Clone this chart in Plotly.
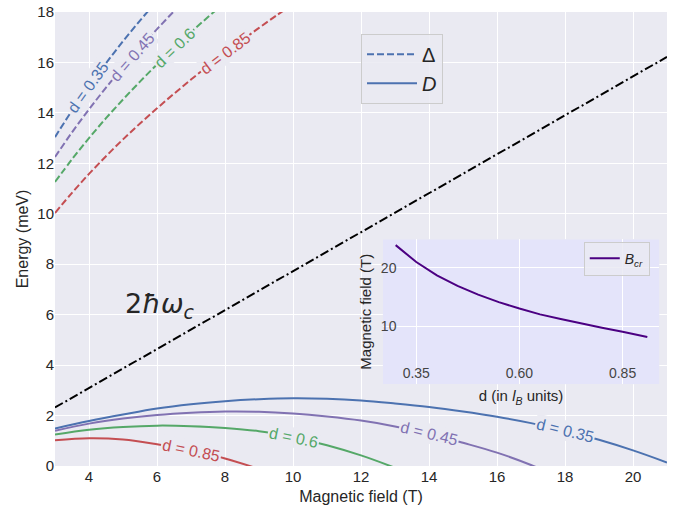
import numpy as np
import plotly.graph_objects as go

# ---------------- data ----------------
d_names = ["0.35", "0.45", "0.6", "0.85"]

# Gap Delta (dashed), meV
B_gap = [3, 3.5, 4, 4.5, 5, 5.5, 6, 6.5, 7, 7.5, 8, 8.5, 9, 9.5, 10]
gap_035 = [13.04, 14.09, 15.06, 15.97, 16.84, 17.66, 18.44, 19.2, 19.92, 20.62, 21.3, 21.95, 22.59, 23.21, 23.81]
gap_045 = [12.25, 13.23, 14.14, 15.0, 15.81, 16.58, 17.32, 18.03, 18.71, 19.36, 19.99, 20.61, 21.21, 21.79, 22.36]
gap_060 = [11.26, 12.16, 13.0, 13.79, 14.53, 15.24, 15.92, 16.57, 17.2, 17.8, 18.38, 18.95, 19.5, 20.03, 20.55]
gap_085 = [10.03, 10.83, 11.58, 12.28, 12.95, 13.58, 14.18, 14.76, 15.32, 15.86, 16.37, 16.88, 17.37, 17.85, 18.31]

# D (solid), meV
B_D = [3, 4, 5, 6, 7, 8, 9, 10, 11, 12, 13, 14, 15, 16, 17, 18, 19, 20, 21]
D_035 = [1.49, 1.78, 2.04, 2.28, 2.45, 2.57, 2.65, 2.69, 2.67, 2.60, 2.48, 2.34, 2.16, 1.95, 1.70, 1.40, 1.04, 0.62, 0.14]
D_045 = [1.40, 1.68, 1.88, 2.02, 2.11, 2.16, 2.15, 2.08, 1.96, 1.80, 1.57, 1.28, 0.92, 0.53, 0.04, -0.55]
D_060 = [1.25, 1.44, 1.55, 1.60, 1.58, 1.51, 1.38, 1.14, 0.82, 0.42, -0.07]
D_085 = [1.02, 1.10, 1.05, 0.86, 0.61, 0.30, -0.12]

# 2 hbar omega_c
B_cyc = [3, 21]
two_hwc = [2.32, 16.22]

# inset: critical field vs d
d_inset = [0.30, 0.35, 0.40, 0.45, 0.50, 0.55, 0.60, 0.65, 0.70, 0.75, 0.80, 0.85, 0.91]
B_cr = [23.9, 21.0, 18.7, 16.9, 15.4, 14.1, 13.0, 12.0, 11.2, 10.4, 9.7, 9.0, 8.1]

# label positions along the curves (field values)
gap_label_B = [3.97, 5.26, 6.5, 8.0]
D_label_B = [18.0, 14.0, 10.0, 7.0]

# ---------------- styles ----------------
colors = ["#4C72B0", "#8172B2", "#55A868", "#C44E52"]
BG = "#EAEAF2"
INSET_BG = "#E4E4FA"
TXT = "#262626"
FONT = "Liberation Sans, Arial, sans-serif"

W, H = 682, 508
ML, MR, MT, MB = 55, 15, 12, 42
xr, yr = [3, 21], [0, 18]
xr2, yr2 = [0.269, 0.939], [0, 24.9]
kx = (W - ML - MR) / (xr[1] - xr[0])
ky = (H - MT - MB) / (yr[1] - yr[0])

gaps = [gap_035, gap_045, gap_060, gap_085]
Ds = [D_035, D_045, D_060, D_085]

fig = go.Figure()

for i, (g, c) in enumerate(zip(gaps, colors)):
    fig.add_trace(go.Scatter(x=B_gap, y=g, mode="lines", line=dict(color=c, width=2, dash="7px,3px", shape="spline"),
                             name="Δ", showlegend=(i == 0), legend="legend", hoverinfo="skip"))
for i, (dv, c) in enumerate(zip(Ds, colors)):
    fig.add_trace(go.Scatter(x=B_D[:len(dv)], y=dv, mode="lines", line=dict(color=c, width=2, shape="spline"),
                             name="<i>D</i>", showlegend=(i == 0), legend="legend", hoverinfo="skip"))

fig.add_trace(go.Scatter(x=B_cyc, y=two_hwc, mode="lines", line=dict(color="black", width=2, dash="9px,3px,2px,3px"),
                         showlegend=False, hoverinfo="skip"))

fig.add_trace(go.Scatter(x=d_inset, y=B_cr, mode="lines", line=dict(color="#4B0082", width=2),
                         xaxis="x2", yaxis="y2", name="<i>B</i><sub><i>cr</i></sub>", legend="legend2",
                         showlegend=True, hoverinfo="skip"))

annotations = []


def add_label(bx, xs, ys, c, name, size):
    xs = np.asarray(xs, float)
    ys = np.asarray(ys, float)
    yv = float(np.interp(bx, xs, ys))
    slope = float(np.interp(bx, xs, np.gradient(ys, xs)))
    ang = -np.degrees(np.arctan(slope * ky / kx))
    annotations.append(dict(x=bx, y=yv, xref="x", yref="y", text=f"d = {name}", showarrow=False,
                            textangle=ang, font=dict(color=c, size=size, family=FONT),
                            bgcolor=BG, borderpad=1))


for bx, g, c, n in zip(gap_label_B, gaps, colors, d_names):
    add_label(bx, B_gap, g, c, n, 16)
for bx, dv, c, n in zip(D_label_B, Ds, colors, d_names):
    add_label(bx, B_D[:len(dv)], dv, c, n, 16)

annotations.append(dict(x=5.0, y=6.35, xref="x", yref="y", xanchor="left", yanchor="middle", showarrow=False,
                        text="2<i>ħω</i><sub><i>c</i></sub>", font=dict(size=27, color=TXT, family="DejaVu Sans")))

fig.update_layout(
    width=W, height=H,
    margin=dict(l=ML, r=MR, t=MT, b=MB, autoexpand=False),
    paper_bgcolor="white", plot_bgcolor=BG,
    font=dict(family=FONT, color=TXT, size=15),
    xaxis=dict(range=xr, tickvals=list(range(4, 21, 2)), showgrid=True, gridcolor="white", gridwidth=1.3,
               zeroline=False, showline=False, ticks="", tickfont=dict(size=15), automargin=False,
               title=dict(text="Magnetic field (T)", font=dict(size=16), standoff=6)),
    yaxis=dict(range=yr, tickvals=list(range(0, 19, 2)), showgrid=True, gridcolor="white", gridwidth=1.3,
               zeroline=False, showline=False, ticks="", tickfont=dict(size=15), automargin=False,
               title=dict(text="Energy (meV)", font=dict(size=16), standoff=4)),
    xaxis2=dict(domain=[0.5357, 0.9874], anchor="y2", range=xr2, tickvals=[0.35, 0.6, 0.85],
                ticktext=["0.35", "0.60", "0.85"], ticklabelposition="inside", showgrid=True, gridcolor="white",
                gridwidth=1.3, zeroline=False, showline=False, ticks="", tickfont=dict(size=14), automargin=False,
                title=dict(text="d (in <i>l</i><sub><i>B</i></sub> units)", font=dict(size=15), standoff=10)),
    yaxis2=dict(domain=[0.1802, 0.4993], anchor="x2", range=yr2, tickvals=[10, 20],
                ticklabelposition="inside", showgrid=True, gridcolor="white", gridwidth=1.3,
                zeroline=False, showline=False, ticks="", tickfont=dict(size=14), automargin=False,
                title=dict(text="Magnetic field (T)", font=dict(size=15), standoff=5)),
    legend=dict(x=0.5, y=0.952, xanchor="left", yanchor="top", bgcolor="rgba(234,234,242,0.85)",
                bordercolor="#CCCCCC", borderwidth=1, font=dict(size=20, color=TXT), itemwidth=50),
    legend2=dict(x=0.864, y=0.494, xanchor="left", yanchor="top", bgcolor="rgba(234,234,242,0.85)",
                 bordercolor="#CCCCCC", borderwidth=1, font=dict(size=14, color=TXT), itemwidth=30),
    shapes=[dict(type="rect", xref="x2", yref="y2", x0=xr2[0], x1=xr2[1], y0=yr2[0], y1=yr2[1],
                 fillcolor=INSET_BG, line=dict(width=0), layer="below")],
    annotations=annotations,
)

try:
    fig.update_layout(yaxis2_ticklabelstandoff=-5)
except Exception:
    pass

fig.write_html("out.html", post_script="document.body.style.margin='0px';",
               config={"displayModeBar": False})
